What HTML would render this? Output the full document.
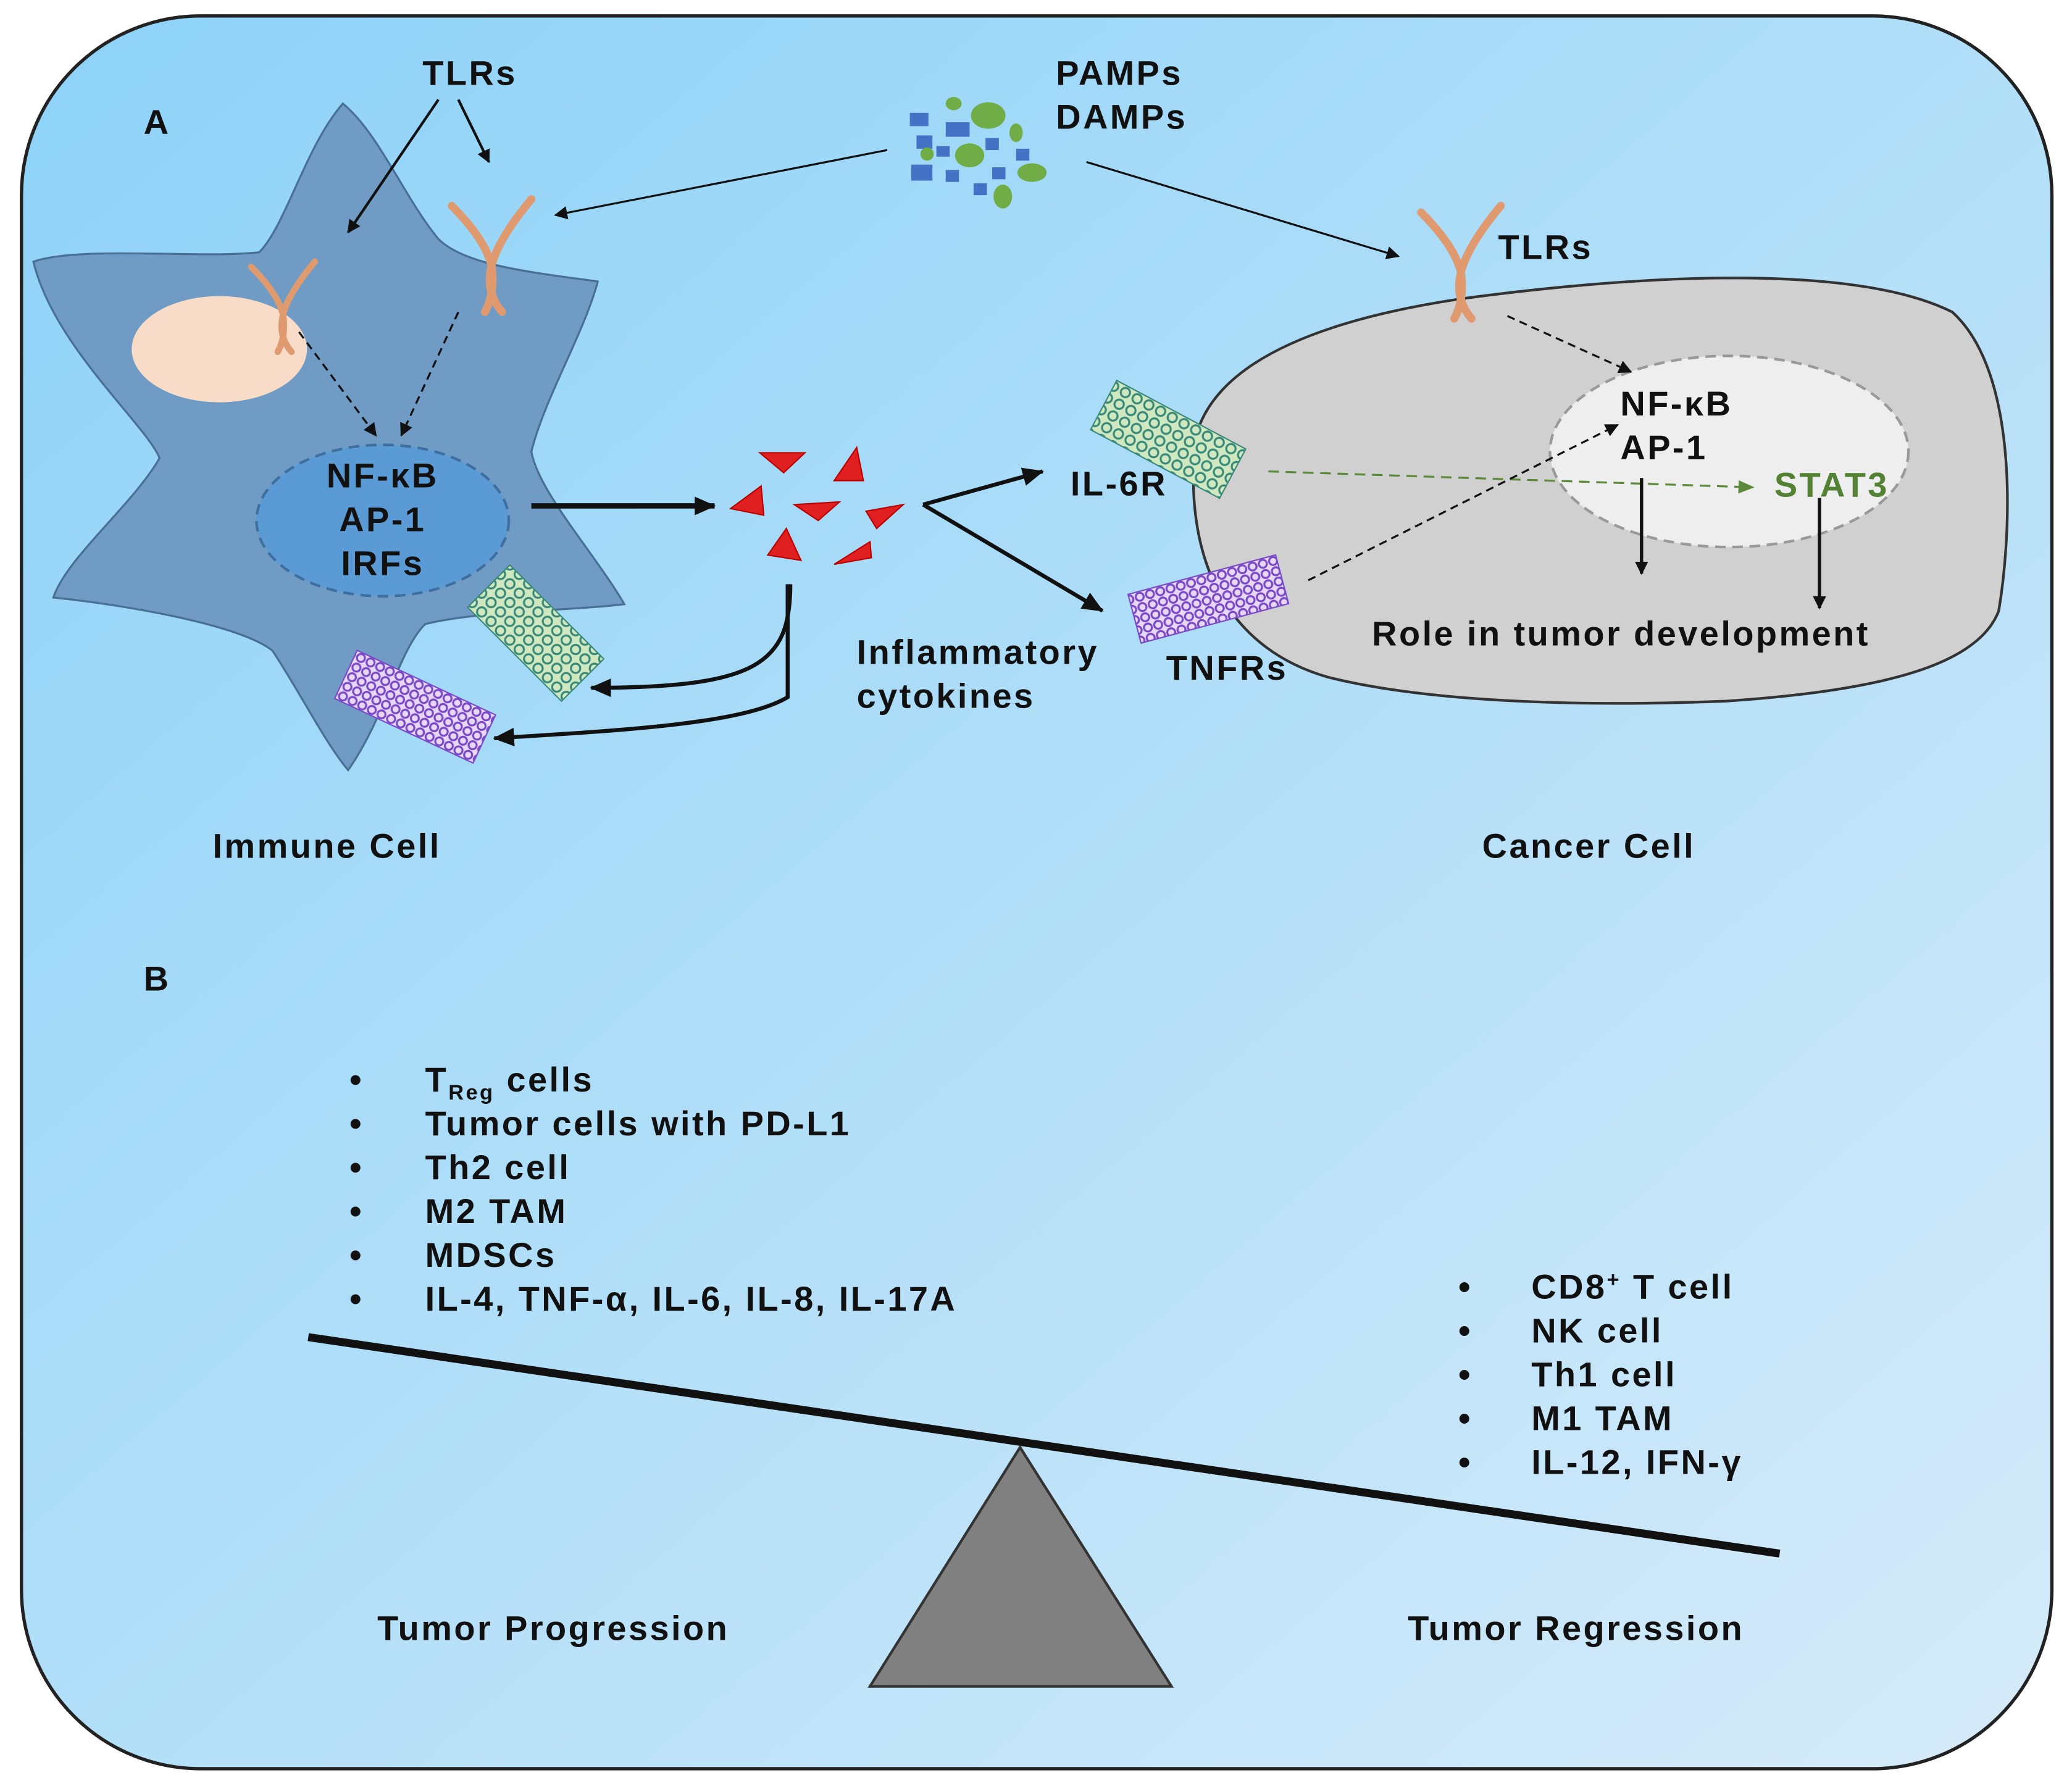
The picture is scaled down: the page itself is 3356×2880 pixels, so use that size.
<!DOCTYPE html>
<html><head><meta charset="utf-8"><style>
html,body{margin:0;padding:0;background:#fff}
svg{display:block}
text{font-family:"Liberation Sans",sans-serif;font-weight:bold;fill:#111;letter-spacing:1.6px}
</style></head><body>
<svg width="3356" height="2880" viewBox="0 0 1560 1339" xmlns="http://www.w3.org/2000/svg">
<defs>
<linearGradient id="bg" x1="0" y1="0" x2="1" y2="1">
<stop offset="0" stop-color="#8dd2f8"/><stop offset="1" stop-color="#d6ebf9"/>
</linearGradient>
<marker id="ah" markerWidth="10" markerHeight="10" refX="9" refY="5" orient="auto" markerUnits="userSpaceOnUse"><path d="M0,0 L10,5 L0,10 z" fill="#111"/></marker>
<marker id="ahb" markerWidth="16" markerHeight="14" refX="15" refY="7" orient="auto" markerUnits="userSpaceOnUse"><path d="M0,0 L16,7 L0,14 z" fill="#111"/></marker>
<marker id="ahg" markerWidth="12" markerHeight="10" refX="11" refY="5" orient="auto" markerUnits="userSpaceOnUse"><path d="M0,0 L12,5 L0,10 z" fill="#5a8a3a"/></marker>
<pattern id="grn" width="10" height="10" patternUnits="userSpaceOnUse"><rect width="10" height="10" fill="#cfe8c0"/><circle cx="5" cy="5" r="3.5" fill="none" stroke="#3a8a7a" stroke-width="1.5"/></pattern>
<pattern id="pur" width="8" height="8" patternUnits="userSpaceOnUse"><rect width="8" height="8" fill="#e8d8f8"/><circle cx="4" cy="4" r="3" fill="none" stroke="#7a4ac8" stroke-width="1.5"/></pattern>
<g id="tlr" stroke="#e09a70" stroke-width="6" fill="none" stroke-linecap="round">
<path d="M-30,-30 Q-5,-5 0,15 Q3,35 -5,50"/><path d="M30,-35 Q5,-5 0,15 Q-5,35 8,50"/>
</g>
</defs>
<rect x="16" y="12" width="1529" height="1320" rx="135" fill="url(#bg)" stroke="#222" stroke-width="2.5"/>

<path d="M258,78 C230,110 215,170 195,190 C150,195 60,185 25,197 C40,260 110,320 120,345 C100,380 50,420 40,450 C90,455 180,470 205,490 C225,520 245,560 262,580 C290,540 300,490 320,470 C360,460 430,460 470,455 C450,420 405,370 400,340 C410,300 440,250 450,212 C400,205 350,200 330,180 C305,150 285,100 258,78 z" fill="#6f9bc4" stroke="#4a6f95" stroke-width="1.5"/>
<ellipse cx="165" cy="263" rx="66" ry="40" fill="#f8dcc8"/>
<ellipse cx="288" cy="392" rx="95" ry="57" fill="#5b9bd5" stroke="#3f6f9f" stroke-width="2" stroke-dasharray="8,5"/>
<text x="288" y="367" font-size="26" text-anchor="middle">NF-κB</text>
<text x="288" y="400" font-size="26" text-anchor="middle">AP-1</text>
<text x="288" y="433" font-size="26" text-anchor="middle">IRFs</text>
<use href="#tlr" transform="translate(213,225) scale(0.8)"/>
<use href="#tlr" transform="translate(370,185)"/>
<text x="318" y="64" font-size="26">TLRs</text>
<line x1="330" y1="75" x2="262" y2="175" stroke="#111" stroke-width="2" marker-end="url(#ah)"/>
<line x1="345" y1="75" x2="368" y2="122" stroke="#111" stroke-width="2" marker-end="url(#ah)"/>
<line x1="225" y1="250" x2="283" y2="328" stroke="#111" stroke-width="1.5" stroke-dasharray="6,4" marker-end="url(#ah)"/>
<line x1="345" y1="235" x2="302" y2="328" stroke="#111" stroke-width="1.5" stroke-dasharray="6,4" marker-end="url(#ah)"/>
<rect x="355" y="455" width="100" height="45" fill="url(#grn)" transform="rotate(45 405 475)" stroke="#3a8a7a"/>
<rect x="255" y="512" width="115" height="40" fill="url(#pur)" transform="rotate(25 312 532)" stroke="#7a4ac8"/>

<g fill="#4472c4"><rect x="685" y="85" width="14" height="10"/><rect x="712" y="92" width="18" height="11"/><rect x="690" y="102" width="12" height="10"/><rect x="705" y="110" width="10" height="8"/><rect x="742" y="104" width="10" height="9"/><rect x="765" y="112" width="10" height="9"/><rect x="686" y="124" width="16" height="12"/><rect x="712" y="128" width="10" height="9"/><rect x="733" y="138" width="10" height="9"/><rect x="747" y="126" width="10" height="9"/></g>
<g fill="#70ad47"><ellipse cx="744" cy="87" rx="13" ry="10"/><ellipse cx="718" cy="78" rx="6" ry="5"/><ellipse cx="730" cy="117" rx="11" ry="9"/><ellipse cx="765" cy="100" rx="5" ry="7"/><ellipse cx="777" cy="130" rx="11" ry="7"/><ellipse cx="755" cy="148" rx="7" ry="9"/><ellipse cx="698" cy="116" rx="5" ry="5"/></g>
<text x="795" y="64" font-size="26">PAMPs</text>
<text x="795" y="97" font-size="26">DAMPs</text>
<line x1="668" y1="113" x2="418" y2="162" stroke="#111" stroke-width="1.5" marker-end="url(#ah)"/>
<line x1="818" y1="122" x2="1053" y2="193" stroke="#111" stroke-width="1.5" marker-end="url(#ah)"/>

<g fill="#e02020" stroke="#b00" stroke-width="1">
<path d="M572,341 L606,341 L590,356 z"/><path d="M628,362 L645,337 L650,362 z"/><path d="M598,380 L632,378 L616,392 z"/><path d="M550,383 L573,366 L575,388 z"/><path d="M652,385 L680,380 L660,398 z"/><path d="M578,418 L592,398 L603,422 z"/><path d="M628,425 L655,408 L656,420 z"/>
</g>
<line x1="400" y1="381" x2="538" y2="381" stroke="#111" stroke-width="4" marker-end="url(#ahb)"/>
<path d="M695,380 L785,355" stroke="#111" stroke-width="3" fill="none" marker-end="url(#ahb)"/>
<path d="M695,380 L830,460" stroke="#111" stroke-width="3" fill="none" marker-end="url(#ahb)"/>
<path d="M595,440 C595,500 570,518 445,518" stroke="#111" stroke-width="3" fill="none" marker-end="url(#ahb)"/>
<path d="M593,440 L593,525 C560,545 470,550 372,556" stroke="#111" stroke-width="3" fill="none" marker-end="url(#ahb)"/>
<text x="645" y="500" font-size="26">Inflammatory</text>
<text x="645" y="533" font-size="26">cytokines</text>

<path d="M900,330 C915,270 1000,240 1100,225 C1250,205 1400,200 1470,235 C1520,280 1515,400 1505,460 C1490,500 1420,520 1300,528 C1200,532 1080,530 1000,510 C930,490 890,430 900,330 z" fill="#d0d0d0" stroke="#333" stroke-width="2"/>
<ellipse cx="1302" cy="340" rx="135" ry="72" fill="#eeeeee" stroke="#999" stroke-width="2" stroke-dasharray="8,5"/>
<use href="#tlr" transform="translate(1100,190)"/>
<text x="1128" y="195" font-size="26">TLRs</text>
<line x1="1135" y1="238" x2="1228" y2="280" stroke="#111" stroke-width="1.5" stroke-dasharray="6,4" marker-end="url(#ah)"/>
<text x="1220" y="313" font-size="26">NF-κB</text>
<text x="1220" y="346" font-size="26">AP-1</text>
<text x="1336" y="374" font-size="26" style="fill:#548235">STAT3</text>
<line x1="955" y1="355" x2="1320" y2="367" stroke="#5a8a3a" stroke-width="1.5" stroke-dasharray="8,5" marker-end="url(#ahg)"/>
<line x1="985" y1="437" x2="1218" y2="320" stroke="#111" stroke-width="1.5" stroke-dasharray="6,4" marker-end="url(#ah)"/>
<line x1="1236" y1="360" x2="1236" y2="432" stroke="#111" stroke-width="2.5" marker-end="url(#ah)"/>
<line x1="1370" y1="375" x2="1370" y2="458" stroke="#111" stroke-width="2.5" marker-end="url(#ah)"/>
<text x="1033" y="486" font-size="26">Role in tumor development</text>
<rect x="825" y="310" width="110" height="42" fill="url(#grn)" transform="rotate(28 880 330)" stroke="#3a8a7a"/>
<rect x="852" y="432" width="115" height="38" fill="url(#pur)" transform="rotate(-15 910 450)" stroke="#7a4ac8"/>
<text x="806" y="373" font-size="26">IL-6R</text>
<text x="878" y="512" font-size="26">TNFRs</text>

<text x="108" y="101" font-size="26">A</text>
<text x="160" y="646" font-size="26">Immune Cell</text>
<text x="1116" y="646" font-size="26">Cancer Cell</text>
<text x="108" y="746" font-size="26">B</text>

<g font-size="26">
<text x="263" y="822">•</text><text x="320" y="822">T<tspan font-size="16" dy="6">Reg</tspan><tspan dy="-6"> cells</tspan></text>
<text x="263" y="855">•</text><text x="320" y="855">Tumor cells with PD-L1</text>
<text x="263" y="888">•</text><text x="320" y="888">Th2 cell</text>
<text x="263" y="921">•</text><text x="320" y="921">M2 TAM</text>
<text x="263" y="954">•</text><text x="320" y="954">MDSCs</text>
<text x="263" y="987">•</text><text x="320" y="987">IL-4, TNF-α, IL-6, IL-8, IL-17A</text>
<text x="1098" y="978">•</text><text x="1153" y="978">CD8<tspan font-size="16" dy="-9">+</tspan><tspan dy="9"> T cell</tspan></text>
<text x="1098" y="1011">•</text><text x="1153" y="1011">NK cell</text>
<text x="1098" y="1044">•</text><text x="1153" y="1044">Th1 cell</text>
<text x="1098" y="1077">•</text><text x="1153" y="1077">M1 TAM</text>
<text x="1098" y="1110">•</text><text x="1153" y="1110">IL-12, IFN-γ</text>
</g>
<line x1="232" y1="1007" x2="1340" y2="1170" stroke="#111" stroke-width="6"/>
<path d="M768,1090 L655,1270 L882,1270 z" fill="#808080" stroke="#333" stroke-width="2"/>
<text x="284" y="1235" font-size="26">Tumor Progression</text>
<text x="1060" y="1235" font-size="26">Tumor Regression</text>
</svg>
</body></html>
